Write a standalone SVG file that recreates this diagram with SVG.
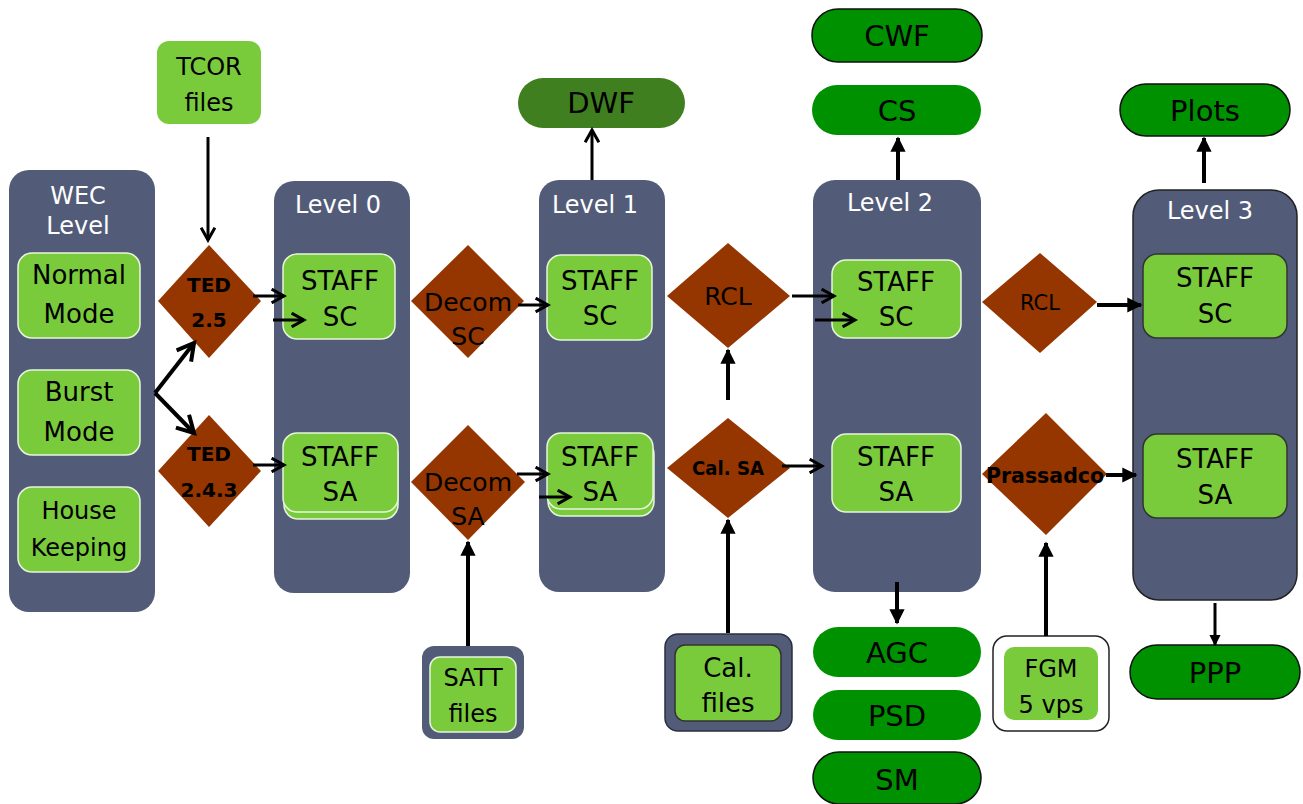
<svg xmlns="http://www.w3.org/2000/svg" width="1303" height="804" viewBox="0 0 1303 804">
<style>
text{font-family:"DejaVu Sans","Liberation Sans",sans-serif;text-anchor:middle;fill:#000}
.lvl{fill:#525c78}
.lvl3{fill:#525c78;stroke:#222;stroke-width:1.5}
.lt{fill:#fff;font-size:24px}
.g{fill:#7acb3c;stroke:#e8f5dc;stroke-width:1.5}
.g2{fill:#7acb3c;stroke:#333;stroke-width:1.5}
.t{font-size:26px}
.ts{font-size:24px}
.d{fill:#953500}
.dt{font-size:25px}
.tb{font-size:20px;font-weight:bold}
.pill{fill:#009100}
.pillb{fill:#009100;stroke:#111;stroke-width:1.5}
.pt{font-size:29px}
.c{stroke:#000;stroke-width:3;fill:none}
.cf{stroke:#000;stroke-width:4;fill:none}
</style>
<defs>
<marker id="open" viewBox="0 0 12 12" refX="10" refY="6" markerWidth="5.5" markerHeight="5.5" orient="auto" markerUnits="strokeWidth">
<path d="M1,1 L10,6 L1,11" fill="none" stroke="#000" stroke-width="2.2"/>
</marker>
<marker id="fill" viewBox="0 0 10 10" refX="9" refY="5" markerWidth="3.8" markerHeight="3.8" orient="auto" markerUnits="strokeWidth">
<path d="M0,0 L10,5 L0,10 z" fill="#000"/>
</marker>
</defs>

<g id="wec">
<rect class="lvl" x="9" y="170" width="146" height="442" rx="20"/>
<text class="lt" x="78" y="204">WEC</text>
<text class="lt" x="78" y="234">Level</text>
</g>
<g id="normal"><rect class="g" x="18" y="253" width="122" height="85" rx="14"/><text class="t" x="79" y="284">Normal</text><text class="t" x="79" y="323">Mode</text></g>
<g id="burst"><rect class="g" x="18" y="370" width="122" height="85" rx="14"/><text class="t" x="79" y="401">Burst</text><text class="t" x="79" y="441">Mode</text></g>
<g id="house"><rect class="g" x="18" y="487" width="122" height="85" rx="14"/><text class="ts" x="79" y="519">House</text><text class="ts" x="79" y="556">Keeping</text></g>

<g id="tcor"><rect fill="#7acb3c" x="157" y="41" width="104" height="83" rx="12"/><text class="ts" x="209" y="75">TCOR</text><text class="ts" x="209" y="111">files</text></g>

<g id="ted25"><polygon class="d" points="209,245 261,301 209,358 158,301"/><text class="tb" x="209" y="292">TED</text><text class="tb" x="209" y="327">2.5</text></g>
<g id="ted243"><polygon class="d" points="209,415 261,471 209,527 158,471"/><text class="tb" x="209" y="461">TED</text><text class="tb" x="209" y="497">2.4.3</text></g>

<g id="level0">
<rect class="lvl" x="274" y="181" width="136" height="412" rx="20"/>
<text class="lt" x="338" y="213">Level  0</text>
</g>
<g id="l0sc"><rect class="g" x="283" y="254" width="112" height="85" rx="14"/><text class="t" x="340" y="290">STAFF</text><text class="t" x="340" y="326">SC</text></g>
<g id="l0sa"><rect class="g" x="284" y="440" width="114" height="79" rx="14"/><rect class="g" x="283" y="433" width="115" height="79" rx="14"/><text class="t" x="340" y="466">STAFF</text><text class="t" x="340" y="501">SA</text></g>

<g id="decomsc"><polygon class="d" points="468,245 524,301 468,358 411,301"/><text class="dt" x="468" y="311">Decom</text><text class="dt" x="468" y="345">SC</text></g>
<g id="decomsa"><polygon class="d" points="468,425 525,482 468,540 411,482"/><text class="dt" x="468" y="491">Decom</text><text class="dt" x="468" y="525">SA</text></g>

<g id="satt"><rect class="lvl" x="422" y="646" width="102" height="93" rx="12"/><rect class="g" x="430" y="657" width="86" height="75" rx="10"/><text class="ts" x="473" y="686">SATT</text><text class="ts" x="473" y="722">files</text></g>

<g id="level1">
<rect class="lvl" x="539" y="180" width="126" height="412" rx="20"/>
<text class="lt" x="595" y="213">Level  1</text>
</g>
<g id="l1sc"><rect class="g" x="547" y="255" width="105" height="85" rx="14"/><text class="t" x="600" y="290">STAFF</text><text class="t" x="600" y="325">SC</text></g>
<g id="l1sa"><rect class="g" x="548" y="440" width="106" height="76" rx="14"/><rect class="g" x="547" y="433" width="106" height="76" rx="14"/><text class="t" x="600" y="466">STAFF</text><text class="t" x="600" y="501">SA</text></g>

<g id="dwf"><rect fill="#3f7f1f" x="518" y="78" width="167" height="50" rx="25"/><text class="pt" x="601" y="113">DWF</text></g>

<g id="rcl1"><polygon class="d" points="728,243 790,296 728,348 667,296"/><text class="dt" x="728" y="305">RCL</text></g>
<g id="calsa"><polygon class="d" points="728,418 790,468 728,518 667,468"/><text x="728" y="475" style="font-size:20px;font-weight:bold" textLength="72" lengthAdjust="spacingAndGlyphs">Cal. SA</text></g>

<g id="calfiles"><rect class="lvl" x="665" y="634" width="127" height="97" rx="13" stroke="#2a2f40" stroke-width="1.5"/><rect class="g2" x="675" y="645" width="106" height="76" rx="10"/><text class="t" x="728" y="677">Cal.</text><text class="t" x="728" y="712">files</text></g>

<g id="level2">
<rect class="lvl" x="813" y="180" width="168" height="412" rx="22"/>
<text class="lt" x="890" y="211">Level  2</text>
</g>
<g id="l2sc"><rect class="g" x="832" y="260" width="129" height="78" rx="14"/><text class="t" x="896" y="291">STAFF</text><text class="t" x="896" y="326">SC</text></g>
<g id="l2sa"><rect class="g" x="832" y="434" width="129" height="78" rx="14"/><text class="t" x="896" y="466">STAFF</text><text class="t" x="896" y="501">SA</text></g>

<g id="cwf"><rect class="pillb" x="812" y="9" width="170" height="53" rx="26"/><text class="pt" x="897" y="46">CWF</text></g>
<g id="cs"><rect class="pill" x="812" y="85" width="169" height="50" rx="25"/><text class="pt" x="897" y="121">CS</text></g>
<g id="agc"><rect class="pill" x="813" y="627" width="168" height="50" rx="25"/><text class="pt" x="897" y="663">AGC</text></g>
<g id="psd"><rect class="pill" x="813" y="690" width="168" height="50" rx="25"/><text class="pt" x="897" y="726">PSD</text></g>
<g id="sm"><rect class="pillb" x="813" y="752" width="168" height="52" rx="26"/><text class="pt" x="897" y="790">SM</text></g>

<g id="rcl2"><polygon class="d" points="1040,253 1097,302 1040,353 982,302"/><text x="1040" y="310" style="font-size:21px">RCL</text></g>
<g id="prass"><polygon class="d" points="1046,413 1107,474 1046,535 982,474"/><text x="1045" y="483" style="font-size:21px;font-weight:bold" textLength="118" lengthAdjust="spacingAndGlyphs">Prassadco</text></g>

<g id="fgm"><rect fill="#fff" stroke="#222" stroke-width="1.5" x="993" y="636" width="116" height="95" rx="14"/><rect fill="#7acb3c" x="1004" y="647" width="94" height="73" rx="10"/><text class="ts" x="1051" y="677">FGM</text><text class="ts" x="1051" y="713">5 vps</text></g>

<g id="level3">
<rect class="lvl3" x="1133" y="190" width="164" height="410" rx="26"/>
<text class="lt" x="1210" y="219">Level  3</text>
</g>
<g id="l3sc"><rect class="g2" x="1143" y="254" width="144" height="84" rx="14"/><text class="t" x="1215" y="287">STAFF</text><text class="t" x="1215" y="323">SC</text></g>
<g id="l3sa"><rect class="g2" x="1143" y="434" width="144" height="84" rx="14"/><text class="t" x="1215" y="468">STAFF</text><text class="t" x="1215" y="504">SA</text></g>

<g id="plots"><rect class="pillb" x="1120" y="84" width="170" height="52" rx="26"/><text class="pt" x="1205" y="121">Plots</text></g>
<g id="ppp"><rect class="pillb" x="1130" y="645" width="170" height="54" rx="27"/><text class="pt" x="1215" y="683">PPP</text></g>

<g id="connectors">
<line class="c" x1="208" y1="137" x2="208" y2="240" marker-end="url(#open)"/>
<line class="cf" x1="155" y1="393" x2="194" y2="343" marker-end="url(#open)"/>
<line class="cf" x1="155" y1="393" x2="194" y2="433" marker-end="url(#open)"/>
<line class="c" x1="253" y1="296" x2="284" y2="296" marker-end="url(#open)"/>
<line class="c" x1="273" y1="320" x2="304" y2="320" marker-end="url(#open)"/>
<line class="c" x1="253" y1="465" x2="284" y2="465" marker-end="url(#open)"/>
<line class="c" x1="518" y1="305" x2="548" y2="305" marker-end="url(#open)"/>
<line class="c" x1="517" y1="474" x2="548" y2="474" marker-end="url(#open)"/>
<line class="c" x1="539" y1="497" x2="570" y2="497" marker-end="url(#open)"/>
<line class="cf" x1="468" y1="646" x2="468" y2="542" marker-end="url(#fill)"/>
<line class="c" x1="592" y1="180" x2="592" y2="130" marker-end="url(#open)"/>
<line class="cf" x1="728" y1="400" x2="728" y2="350" marker-end="url(#fill)"/>
<line class="cf" x1="728" y1="633" x2="728" y2="520" marker-end="url(#fill)"/>
<line class="c" x1="792" y1="296" x2="834" y2="296" marker-end="url(#open)"/>
<line class="c" x1="815" y1="320" x2="855" y2="320" marker-end="url(#open)"/>
<line class="c" x1="782" y1="466" x2="822" y2="466" marker-end="url(#open)"/>
<line class="cf" x1="898" y1="180" x2="898" y2="138" marker-end="url(#fill)"/>
<line class="cf" x1="897" y1="582" x2="897" y2="623" marker-end="url(#fill)"/>
<line class="cf" x1="1097" y1="305" x2="1141" y2="305" marker-end="url(#fill)"/>
<line class="cf" x1="1106" y1="475" x2="1136" y2="475" marker-end="url(#fill)"/>
<line class="cf" x1="1046" y1="636" x2="1046" y2="543" marker-end="url(#fill)"/>
<line class="cf" x1="1204" y1="183" x2="1204" y2="138" marker-end="url(#fill)"/>
<line class="c" x1="1215" y1="603" x2="1215" y2="645" marker-end="url(#fill)"/>
</g>
</svg>
